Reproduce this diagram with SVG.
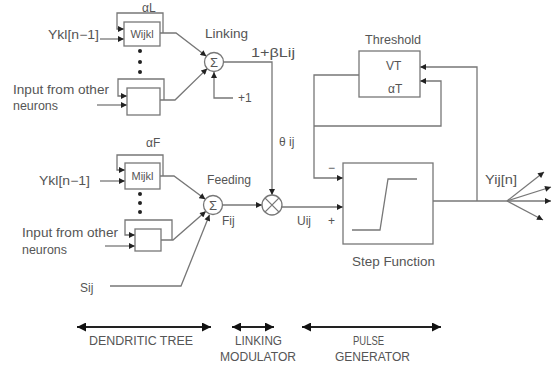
<svg xmlns="http://www.w3.org/2000/svg" width="558" height="367" viewBox="0 0 558 367">
<style>
text{font-family:"Liberation Sans","DejaVu Sans",sans-serif;font-size:12px;fill:#555}
.ln{fill:none;stroke:#777;stroke-width:1.3}
.bx{fill:#fff;stroke:#777;stroke-width:1.3}
.big{fill:none;stroke:#222;stroke-width:2.2}
.sm{font-size:11px}
.sg{font-size:13px}
</style>
<defs>
<marker id="a" viewBox="0 0 10 10" refX="10" refY="5" markerWidth="7" markerHeight="6" markerUnits="userSpaceOnUse" orient="auto"><path d="M0,0L10,5L0,10z" fill="#222"/></marker>
<marker id="b" viewBox="0 0 10 10" refX="10" refY="5" markerWidth="12" markerHeight="9" markerUnits="userSpaceOnUse" orient="auto-start-reverse"><path d="M0,0L10,5L0,10z" fill="#111"/></marker>
</defs>
<rect width="558" height="367" fill="#fff"/>
<g id="connectors">
<path class="ln" d="M163,33V13H117V29H124" marker-end="url(#a)"/>
<path class="ln" d="M100,39H124" marker-end="url(#a)"/>
<path class="ln" d="M160,33H176L206.4,56.2" marker-end="url(#a)"/>
<path class="ln" d="M164,100V79H118V96H127" marker-end="url(#a)"/>
<path class="ln" d="M97,105H127" marker-end="url(#a)"/>
<path class="ln" d="M160,100H175L207.2,68.6" marker-end="url(#a)"/>
<path class="ln" d="M233,98H214V72" marker-end="url(#a)"/>
<path class="ln" d="M223.5,62H272V195" marker-end="url(#a)"/>
<path class="ln" d="M163,176V155H117V170H125" marker-end="url(#a)"/>
<path class="ln" d="M100,181H125" marker-end="url(#a)"/>
<path class="ln" d="M160,176H174L205.4,199.3" marker-end="url(#a)"/>
<path class="ln" d="M172,240V220H125V235H135" marker-end="url(#a)"/>
<path class="ln" d="M105,246H135" marker-end="url(#a)"/>
<path class="ln" d="M161,240H173L205.9,211.3" marker-end="url(#a)"/>
<path class="ln" d="M110,286H181L209.5,214.8" marker-end="url(#a)"/>
<path class="ln" d="M222.5,205H262" marker-end="url(#a)"/>
<path class="ln" d="M282,207H343" marker-end="url(#a)"/>
<path class="ln" d="M359,75H314V178H343" marker-end="url(#a)"/>
<path class="ln" d="M314,126H441V81H420" marker-end="url(#a)"/>
<path class="ln" d="M477,201V67H420" marker-end="url(#a)"/>
<path class="ln" d="M433,201H507"/>
<path class="ln" d="M507,201L544,172" marker-end="url(#a)"/>
<path class="ln" d="M507,201L551,187" marker-end="url(#a)"/>
<path class="ln" d="M507,201H551" marker-end="url(#a)"/>
<path class="ln" d="M507,201L543,220" marker-end="url(#a)"/>
</g>
<g id="wijkl">
<rect class="bx" x="124" y="22" width="36" height="24"/>
<text class="sm" x="142" y="38" text-anchor="middle">Wijkl</text>
</g>
<g id="linking-other">
<rect class="bx" x="127" y="88" width="33" height="27"/>
</g>
<g id="linking-dots" fill="#222">
<circle cx="140" cy="51" r="2"/><circle cx="140" cy="62" r="2"/><circle cx="140" cy="72" r="2"/>
</g>
<g id="linking-sum">
<circle class="bx" cx="214" cy="62" r="9.5"/>
<text class="sg" x="214" y="66.5" text-anchor="middle">Σ</text>
</g>
<g id="mijkl">
<rect class="bx" x="125" y="163" width="35" height="26"/>
<text class="sm" x="142.5" y="180" text-anchor="middle">Mijkl</text>
</g>
<g id="feeding-other">
<rect class="bx" x="135" y="229" width="26" height="22"/>
</g>
<g id="feeding-dots" fill="#222">
<circle cx="140" cy="194" r="2"/><circle cx="140" cy="203" r="2"/><circle cx="140" cy="212" r="2"/>
</g>
<g id="feeding-sum">
<circle class="bx" cx="213" cy="205" r="9.5"/>
<text class="sg" x="213" y="209.5" text-anchor="middle">Σ</text>
</g>
<g id="multiplier">
<circle class="bx" cx="272" cy="205" r="10"/>
<path class="ln" d="M264.9,197.9L279.1,212.1M279.1,197.9L264.9,212.1"/>
</g>
<g id="threshold">
<rect class="bx" x="359" y="51" width="61" height="46"/>
<text x="365" y="44" textLength="56" lengthAdjust="spacingAndGlyphs">Threshold</text>
<text x="386" y="70">VT</text>
<text x="388" y="93">αT</text>
</g>
<g id="step">
<rect class="bx" x="343" y="163" width="90" height="81"/>
<path class="ln" d="M352,230H380L388,179H417"/>
<text x="352" y="266" textLength="83" lengthAdjust="spacingAndGlyphs">Step Function</text>
</g>
<g id="labels">
<text x="142" y="12">αL</text>
<text x="48" y="39" textLength="51" lengthAdjust="spacingAndGlyphs">Ykl[n−1]</text>
<text x="13" y="94" textLength="96" lengthAdjust="spacingAndGlyphs">Input from other</text>
<text x="13" y="110" textLength="45" lengthAdjust="spacingAndGlyphs">neurons</text>
<text x="205" y="38" textLength="43" lengthAdjust="spacingAndGlyphs">Linking</text>
<text x="238" y="102">+1</text>
<text x="251" y="57" textLength="44" lengthAdjust="spacingAndGlyphs">1+βLij</text>
<text x="279" y="146">θ ij</text>
<text x="146" y="147">αF</text>
<text x="39" y="185" textLength="51" lengthAdjust="spacingAndGlyphs">Ykl[n−1]</text>
<text x="22" y="237" textLength="96" lengthAdjust="spacingAndGlyphs">Input from other</text>
<text x="22" y="254" textLength="45" lengthAdjust="spacingAndGlyphs">neurons</text>
<text x="207" y="184" textLength="44" lengthAdjust="spacingAndGlyphs">Feeding</text>
<text x="222" y="225">Fij</text>
<text x="80" y="292">Sij</text>
<text x="297" y="225">Uij</text>
<text x="328" y="225">+</text>
<text x="328" y="172">−</text>
<text x="485" y="184" textLength="32" lengthAdjust="spacingAndGlyphs">Yij[n]</text>
</g>
<g id="sections">
<path class="big" d="M77,327H211" marker-start="url(#b)" marker-end="url(#b)"/>
<path class="big" d="M232,327H274" marker-start="url(#b)" marker-end="url(#b)"/>
<path class="big" d="M302,327H441" marker-start="url(#b)" marker-end="url(#b)"/>
<text x="89" y="345" textLength="104" lengthAdjust="spacingAndGlyphs">DENDRITIC  TREE</text>
<text x="235" y="345" textLength="47" lengthAdjust="spacingAndGlyphs">LINKING</text>
<text x="220" y="361" textLength="76" lengthAdjust="spacingAndGlyphs">MODULATOR</text>
<text x="353" y="345" textLength="31" lengthAdjust="spacingAndGlyphs">PULSE</text>
<text x="335" y="361" textLength="75" lengthAdjust="spacingAndGlyphs">GENERATOR</text>
</g>
</svg>
